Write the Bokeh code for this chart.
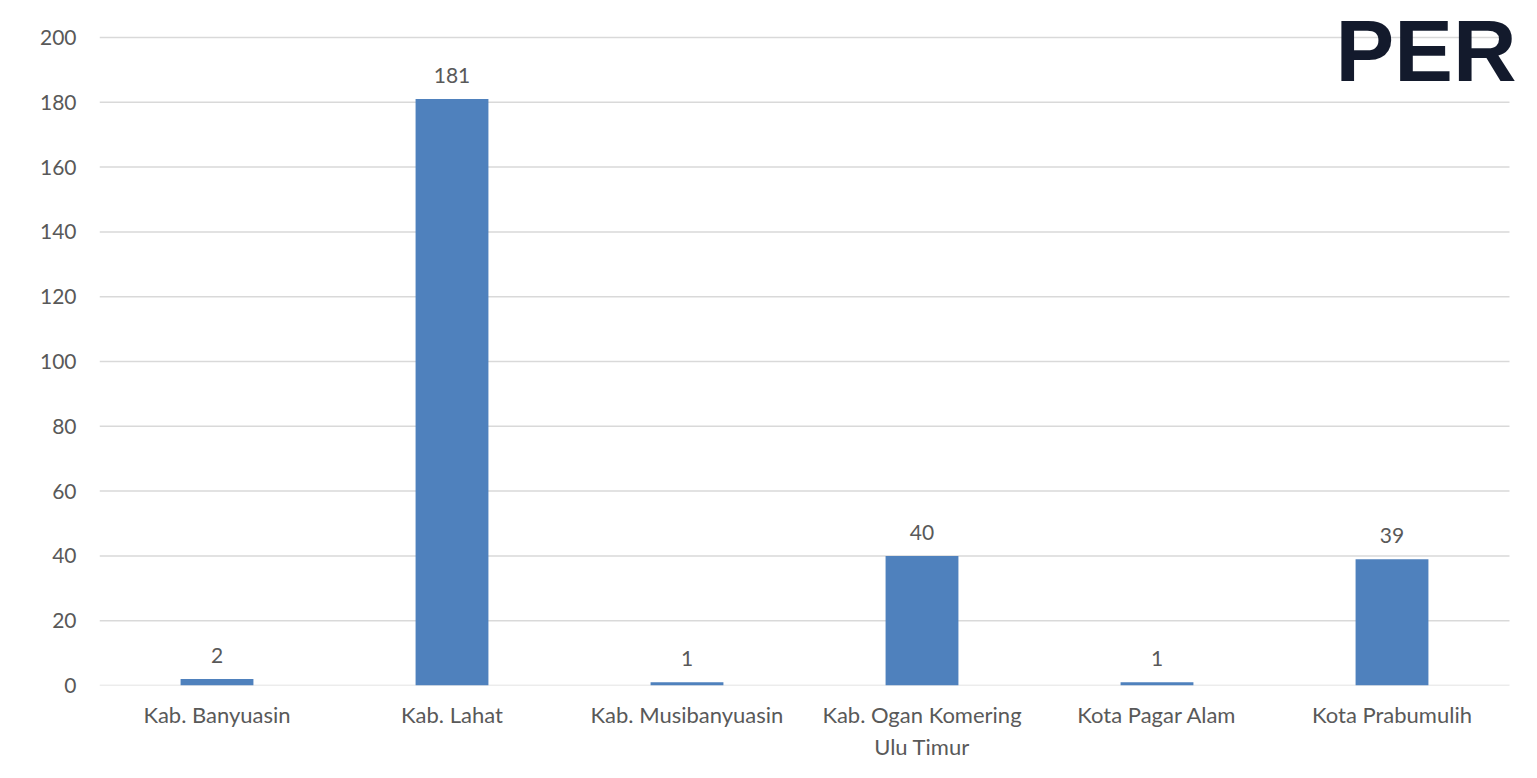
from bokeh.plotting import figure
from bokeh.models import Range1d, Label, ColumnDataSource, FixedTicker
from bokeh.core.properties import value
from bokeh.embed import file_html
from bokeh.resources import INLINE

categories = ["Kab. Banyuasin", "Kab. Lahat", "Kab. Musibanyuasin",
              "Kab. Ogan Komering\nUlu Timur", "Kota Pagar Alam", "Kota Prabumulih"]
values = [2, 181, 1, 40, 1, 39]
y_ticks = [0, 20, 40, 60, 80, 100, 120, 140, 160, 180, 200]

FONT = "Lato"
TXT = "#595959"

W, H = 1521, 762
LEFT, BOTTOM = 99, 77
y_top = 200 * 685 / 648.0          # frame reaches the top of the figure
x_end = -0.5 + (W - LEFT) / 235.0  # frame reaches the right edge

idx = list(range(len(categories)))

p = figure(x_range=Range1d(-0.5, x_end), y_range=Range1d(0, y_top),
           width=W, height=H, output_backend="svg", toolbar_location=None,
           min_border_left=LEFT, min_border_right=0, min_border_top=0, min_border_bottom=BOTTOM)
p.background_fill_color = "white"
p.border_fill_color = "white"
p.outline_line_color = None
p.xgrid.grid_line_color = None
p.ygrid.grid_line_color = None

# horizontal gridlines limited to the category area
p.segment(x0=[-0.5] * len(y_ticks), x1=[len(categories) - 0.5] * len(y_ticks),
          y0=y_ticks, y1=y_ticks, line_color="#d9d9d9", line_width=1.5)

src = ColumnDataSource(dict(x=idx, val=values, lab=[str(v) for v in values]))
p.vbar(x="x", top="val", width=0.31, source=src, fill_color="#4f81bd", line_color=None)
p.text(x="x", y="val", text="lab", source=src, text_align="center", text_baseline="bottom",
       y_offset=-16, text_font=value(FONT), text_font_size="21px", text_color=TXT)

p.yaxis.ticker = FixedTicker(ticks=y_ticks)
p.yaxis.axis_line_color = None
p.yaxis.major_tick_line_color = None
p.yaxis.minor_tick_line_color = None
p.yaxis.major_tick_out = 0
p.yaxis.major_tick_in = 0
p.yaxis.major_label_standoff = 23
p.yaxis.major_label_text_font = FONT
p.yaxis.major_label_text_font_size = "21px"
p.yaxis.major_label_text_color = TXT

p.xaxis.ticker = FixedTicker(ticks=idx)
p.xaxis.major_label_overrides = {i: c for i, c in zip(idx, categories)}
p.xaxis.axis_line_color = None
p.xaxis.major_tick_line_color = None
p.xaxis.minor_tick_line_color = None
p.xaxis.major_tick_out = 0
p.xaxis.major_tick_in = 0
p.xaxis.major_label_standoff = 15
p.xaxis.major_label_text_font = FONT
p.xaxis.major_label_text_font_size = "22px"
p.xaxis.major_label_text_color = TXT

p.add_layout(Label(x=4.76, y=y_top - 0.3, text="PER", text_font="Liberation Sans",
                   text_font_style="bold", text_font_size="88px", text_color="#131a2c",
                   text_baseline="top", text_align="left"))

open("out.html", "w").write(file_html(p, INLINE))
